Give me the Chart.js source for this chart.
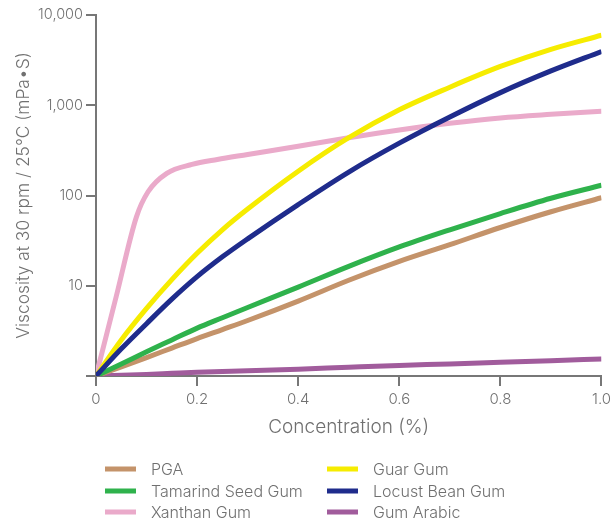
<!DOCTYPE html>
<html>
<head>
  <title>Viscosity vs Concentration</title>
  <script src="https://cdn.jsdelivr.net/npm/chart.js"></script>
  <style>
    body { margin: 0; background: #fff; }
    #wrap { width: 615px; height: 523px; }
  </style>
</head>
<body>
  <div id="wrap"><canvas id="viscChart" width="615" height="523"></canvas></div>

  <script>
    // concentration (%) shared by most series
    const conc = [0, 0.05, 0.1, 0.15, 0.2, 0.25, 0.3, 0.4, 0.5, 0.6, 0.7, 0.8, 0.9, 1.0];
    const xanthanConc = [0, 0.04, 0.08, 0.103, 0.14, 0.19, 0.24, 0.3, 0.4, 0.5, 0.6, 0.7, 0.8, 0.9, 1.0];

    const pga        = [1, 1.26, 1.6, 2.04, 2.6, 3.27, 4.12, 6.76, 11.5, 18.6, 28.5, 44.2, 66.1, 94.4];
    const tamarind   = [1, 1.36, 1.86, 2.51, 3.39, 4.42, 5.75, 9.66, 16.4, 26.9, 41.7, 63.1, 93.3, 130];
    const xanthan    = [1, 7.6, 58, 110, 176, 221, 251, 285, 352, 437, 533, 631, 724, 794, 859];
    const guar       = [1, 2.51, 5.62, 11.7, 22.9, 41.7, 70.8, 186, 437, 891, 1585, 2690, 4170, 5970];
    const locustBean = [1, 2.0, 3.8, 7.1, 12.6, 20.9, 33.1, 79.4, 182, 380, 741, 1380, 2400, 3940];
    const gumArabic  = [1, 1.02, 1.04, 1.07, 1.1, 1.12, 1.14, 1.19, 1.25, 1.31, 1.36, 1.42, 1.48, 1.54];

    const yTicks = [1, 10, 100, 1000, 10000];
    const xTicks = [0, 0.2, 0.4, 0.6, 0.8, 1.0];

    const textGrey = '#707070';
    const axisGrey = '#777777';
    const font = 'Inter, "Open Sans", sans-serif';

    function pts(xs, ys) {
      return xs.map((x, i) => ({ x: x, y: ys[i] }));
    }

    const series = [
      { label: 'PGA',               xs: conc,        ys: pga,        color: '#c4936a' },
      { label: 'Tamarind Seed Gum', xs: conc,        ys: tamarind,   color: '#2fb24c' },
      { label: 'Xanthan Gum',       xs: xanthanConc, ys: xanthan,    color: '#eaaaca' },
      { label: 'Guar Gum',          xs: conc,        ys: guar,       color: '#f6ec00' },
      { label: 'Locust Bean Gum',   xs: conc,        ys: locustBean, color: '#1f2c8c' },
      { label: 'Gum Arabic',        xs: conc,        ys: gumArabic,  color: '#a15c9c' }
    ];

    // lower order is drawn on top
    const drawOrder = { 'Locust Bean Gum': 0, 'Guar Gum': 1, 'Xanthan Gum': 2, 'Tamarind Seed Gum': 3, 'PGA': 4, 'Gum Arabic': 5 };

    const datasets = series.map(s => ({
      label: s.label,
      data: pts(s.xs, s.ys),
      borderColor: s.color,
      backgroundColor: s.color,
      borderWidth: 5,
      pointRadius: 0,
      cubicInterpolationMode: 'monotone',
      fill: false,
      order: drawOrder[s.label]
    }));

    // two-column legend under the plot
    const legendPlugin = {
      id: 'twoColLegend',
      afterDraw(chart) {
        const c = chart.ctx;
        const cols = [105, 327];
        const rows = [469, 491, 512];
        c.save();
        c.font = '300 16px ' + font;
        c.textBaseline = 'middle';
        series.forEach((s, i) => {
          const x = cols[Math.floor(i / 3)];
          const y = rows[i % 3];
          c.fillStyle = s.color;
          c.fillRect(x, y - 2.5, 31, 5);
          c.fillStyle = textGrey;
          c.fillText(s.label, x + 46, y + 1);
        });
        c.restore();
      }
    };

    const ctx = document.getElementById('viscChart').getContext('2d');
    new Chart(ctx, {
      type: 'line',
      data: { datasets: datasets },
      options: {
        responsive: false,
        animation: false,
        layout: { padding: { top: 15, right: 13, bottom: 84, left: 0 } },
        plugins: {
          legend: { display: false },
          tooltip: { enabled: false }
        },
        scales: {
          x: {
            type: 'linear',
            min: 0,
            max: 1,
            afterBuildTicks: scale => { scale.ticks = xTicks.map(v => ({ value: v })); },
            afterFit: scale => { scale.height = 63; },
            ticks: {
              color: textGrey,
              font: { family: font, size: 15, weight: '300' },
              padding: 4,
              maxRotation: 0,
              callback: v => v === 0 ? '0' : v.toFixed(1)
            },
            grid: { drawOnChartArea: false, color: axisGrey, lineWidth: 2, tickLength: 10 },
            border: { color: axisGrey, width: 2 },
            title: {
              display: true,
              text: 'Concentration (%)',
              color: textGrey,
              font: { family: font, size: 19, weight: '300' },
              padding: { top: 4, bottom: 0 }
            }
          },
          y: {
            type: 'logarithmic',
            min: 1,
            max: 10000,
            afterBuildTicks: scale => { scale.ticks = yTicks.map(v => ({ value: v })); },
            afterFit: scale => { scale.width = 96; },
            ticks: {
              color: textGrey,
              font: { family: font, size: 14.5, weight: '300' },
              padding: 3,
              callback: v => v === 1 ? '' : v.toLocaleString('en-US')
            },
            grid: { drawOnChartArea: false, color: axisGrey, lineWidth: 2, tickLength: 10 },
            border: { color: axisGrey, width: 2 },
            title: {
              display: true,
              text: 'Viscosity at 30 rpm / 25°C (mPa•S)',
              color: textGrey,
              font: { family: font, size: 17.4, weight: '300' },
              padding: { top: 13, bottom: 0 }
            }
          }
        }
      },
      plugins: [legendPlugin]
    });
  </script>
</body>
</html>
